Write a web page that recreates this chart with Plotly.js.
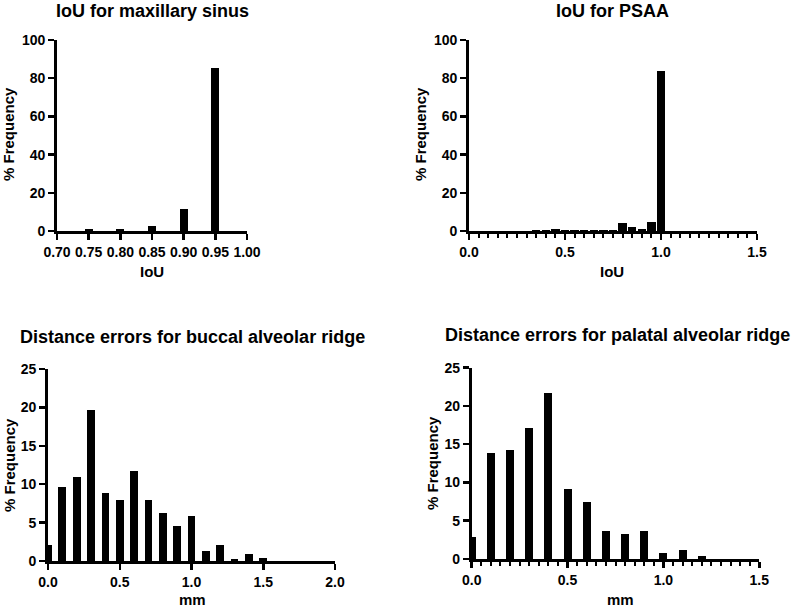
<!DOCTYPE html>
<html>
<head>
<meta charset="utf-8">
<script src="https://cdn.plot.ly/plotly-3.0.1.min.js"></script>
<style>html,body{margin:0;padding:0;background:#fff;}#chart{width:794px;height:610px;}</style>
</head>
<body>
<div id="chart"></div>
<script>
// ---- Data ----
const sinusIoU   = [0.75, 0.80, 0.85, 0.90, 0.95];
const sinusFreq  = [0.8, 0.8, 2.5, 11.3, 85.3];

const psaaIoU    = [0.35, 0.40, 0.45, 0.50, 0.55, 0.60, 0.65, 0.70, 0.75, 0.80, 0.85, 0.90, 0.95, 1.00];
const psaaFreq   = [0.5, 0.5, 0.9, 0.5, 0.5, 0.5, 0.5, 0.5, 0.5, 4.2, 2.1, 0.9, 4.9, 83.8];

const buccalMM   = [0.0, 0.1, 0.2, 0.3, 0.4, 0.5, 0.6, 0.7, 0.8, 0.9, 1.0, 1.1, 1.2, 1.3, 1.4, 1.5];
const buccalFreq = [2.1, 9.6, 10.9, 19.6, 8.8, 7.9, 11.7, 7.9, 6.3, 4.6, 5.9, 1.3, 2.1, 0.3, 0.9, 0.4];

const palatalMM   = [0.0, 0.1, 0.2, 0.3, 0.4, 0.5, 0.6, 0.7, 0.8, 0.9, 1.0, 1.1, 1.2];
const palatalFreq = [2.9, 13.8, 14.2, 17.1, 21.7, 9.2, 7.5, 3.7, 3.3, 3.7, 0.8, 1.2, 0.4];

const titles = ["IoU for maxillary sinus", "IoU for PSAA",
                "Distance errors for buccal alveolar ridge", "Distance errors for palatal alveolar ridge"];
const xTitles = ["IoU", "IoU", "mm", "mm"];
const yTitle = "% Frequency";

// ---- Styling ----
const W = 794, H = 610;
const FONT = "Liberation Sans, Arial, sans-serif";
const px = v => v / W;
const py = v => 1 - v / H;

function bar(x, y, xa, ya, width) {
  return {type: 'bar', x: x, y: y, xaxis: xa, yaxis: ya, width: width,
          marker: {color: '#000', line: {width: 0}}, hoverinfo: 'x+y', showlegend: false};
}

const data = [
  bar(sinusIoU, sinusFreq, 'x', 'y', 0.0125),
  bar(psaaIoU, psaaFreq, 'x2', 'y2', 0.043),
  bar(buccalMM, buccalFreq, 'x3', 'y3', 0.054),
  bar(palatalMM, palatalFreq, 'x4', 'y4', 0.042)
];

const axBase = {
  showgrid: false, zeroline: false, showline: true, linecolor: '#000', linewidth: 2.8,
  ticks: 'outside', ticklen: 6, tickwidth: 2.5, tickcolor: '#000',
  tickfont: {family: FONT, size: 14, color: '#000', weight: 'bold'},
  fixedrange: true
};
function ax(extra) { return Object.assign({}, axBase, extra); }
const minor = {dtick: 0.05, ticklen: 4, tickwidth: 2, tickcolor: '#000', ticks: 'outside'};

const layout = {
  width: W, height: H,
  margin: {l: 0, r: 0, t: 0, b: 0},
  paper_bgcolor: '#fff', plot_bgcolor: 'rgba(0,0,0,0)',
  bargap: 0, showlegend: false,
  xaxis:  ax({domain: [px(57), px(247)], anchor: 'y', range: [0.70, 1.00], tick0: 0.70, dtick: 0.05, tickformat: '.2f'}),
  yaxis:  ax({domain: [py(231), py(40)], anchor: 'x', range: [0, 100], dtick: 20}),
  xaxis2: ax({domain: [px(469), px(757)], anchor: 'y2', range: [0, 1.5], dtick: 0.5, tickformat: '.1f', minor: minor}),
  yaxis2: ax({domain: [py(231), py(40)], anchor: 'x2', range: [0, 100], dtick: 20}),
  xaxis3: ax({domain: [px(48), px(335)], anchor: 'y3', range: [0, 2.0], dtick: 0.5, tickformat: '.1f'}),
  yaxis3: ax({domain: [py(561), py(369)], anchor: 'x3', range: [0, 25], dtick: 5}),
  xaxis4: ax({domain: [px(471.7), px(759.3)], anchor: 'y4', range: [0, 1.5], dtick: 0.5, tickformat: '.1f', minor: minor}),
  yaxis4: ax({domain: [py(559), py(367.7)], anchor: 'x4', range: [0, 25], dtick: 5}),
  annotations: []
};

const titleFont = {family: FONT, size: 18, color: '#000', weight: 'bold'};
const axTitleFont = {family: FONT, size: 15, color: '#000', weight: 'bold'};
function ann(text, x, y, font, angle) {
  return {text: text, xref: 'paper', yref: 'paper', x: px(x), y: py(y),
          xanchor: 'center', yanchor: 'middle', showarrow: false, font: font, textangle: angle || 0};
}
const titlePos = [[152, 11], [612, 11], [192, 337], [617, 335]];
const xTitlePos = [[152, 271], [612, 271], [192, 599], [620, 599]];
const yTitlePos = [[9, 134], [421, 134], [9, 465], [432, 463]];
for (let i = 0; i < 4; i++) {
  layout.annotations.push(ann(titles[i], titlePos[i][0], titlePos[i][1], titleFont));
  layout.annotations.push(ann(xTitles[i], xTitlePos[i][0], xTitlePos[i][1], axTitleFont));
  layout.annotations.push(ann(yTitle, yTitlePos[i][0], yTitlePos[i][1], axTitleFont, -90));
}

Plotly.newPlot('chart', data, layout, {displayModeBar: false, staticPlot: true});
</script>
</body>
</html>
